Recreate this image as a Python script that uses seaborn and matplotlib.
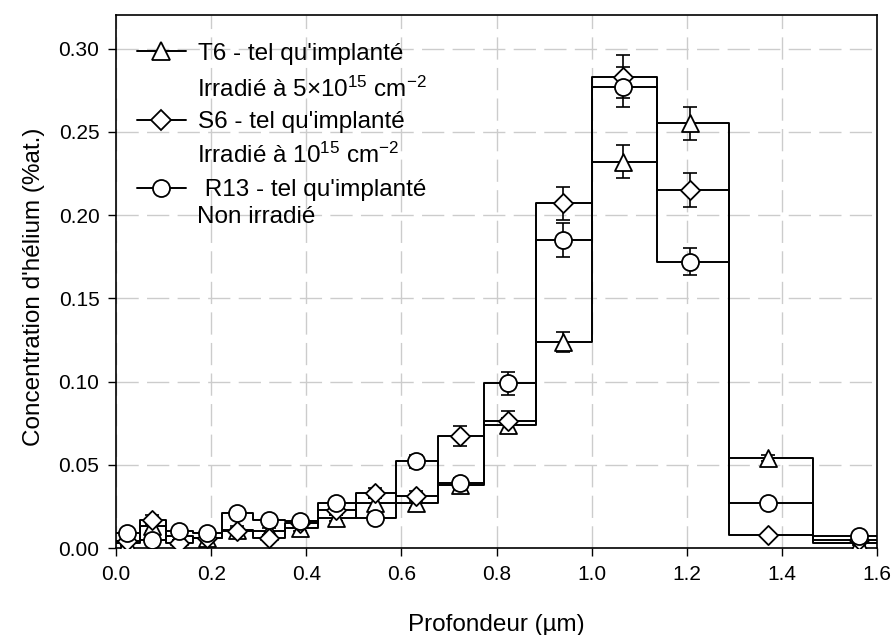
import numpy as np
import pandas as pd
import matplotlib
matplotlib.use("Agg")
import matplotlib.pyplot as plt
from matplotlib.lines import Line2D
import seaborn as sns

# ===================== He depth profiles (NRA) =====================
bin_edges = [0.0, 0.05, 0.105, 0.162, 0.222, 0.288, 0.355, 0.425, 0.504, 0.588,
             0.677, 0.773, 0.884, 1.0, 1.137, 1.289, 1.466, 1.66]
depth = [0.0225, 0.075, 0.133, 0.192, 0.254, 0.321, 0.387, 0.463, 0.545, 0.631,
         0.724, 0.825, 0.939, 1.065, 1.207, 1.370, 1.562]

t6 = [0.003, 0.013, 0.007, 0.006, 0.011, 0.010, 0.012, 0.018, 0.027, 0.027,
      0.038, 0.074, 0.124, 0.232, 0.255, 0.054, 0.003]
t6_err = [0.002, 0.003, 0.002, 0.002, 0.002, 0.002, 0.002, 0.002, 0.003, 0.003,
          0.003, 0.004, 0.006, 0.010, 0.010, 0.002, 0.001]

s6 = [0.004, 0.017, 0.003, 0.006, 0.010, 0.006, 0.015, 0.023, 0.033, 0.031,
      0.067, 0.076, 0.207, 0.283, 0.215, 0.008, 0.005]
s6_err = [0.002, 0.003, 0.002, 0.002, 0.002, 0.002, 0.002, 0.003, 0.003, 0.003,
          0.006, 0.006, 0.010, 0.013, 0.010, 0.001, 0.001]

r13 = [0.009, 0.005, 0.010, 0.009, 0.021, 0.017, 0.016, 0.027, 0.018, 0.052,
       0.039, 0.099, 0.185, 0.277, 0.172, 0.027, 0.007]
r13_err = [0.002, 0.002, 0.002, 0.002, 0.002, 0.002, 0.002, 0.002, 0.002, 0.004,
           0.003, 0.007, 0.010, 0.012, 0.008, 0.002, 0.001]

sample_labels = ["T6 - tel qu'implanté", "S6 - tel qu'implanté", " R13 - tel qu'implanté"]
dose_labels = ["Irradié à 5×10$^{15}$ cm$^{-2}$", "Irradié à 10$^{15}$ cm$^{-2}$", "Non irradié"]

series = [
    ("T6", t6, t6_err, "^", 150),
    ("S6", s6, s6_err, "D", 95),
    ("R13", r13, r13_err, "o", 150),
]

sns.set_style("white")
plt.rcParams['font.family'] = ['Liberation Sans', 'DejaVu Sans']
plt.rcParams['mathtext.default'] = 'regular'
plt.rcParams['font.size'] = 15
plt.rcParams['text.color'] = 'black'
plt.rcParams['axes.labelcolor'] = 'black'

fig = plt.figure(figsize=(8.93, 6.35), dpi=100)
ax = fig.add_axes([0.130, 0.137, 0.852, 0.839])
ax.set_axisbelow(True)

handles = []
for name, vals, errs, mk, sz in series:
    df = pd.DataFrame({"depth": depth, "conc": vals, "err": errs})
    sns.histplot(data=df, x="depth", weights="conc", bins=bin_edges,
                 element="step", fill=False, color="black", linewidth=1.4,
                 ax=ax, zorder=2)
    ax.errorbar(df["depth"], df["conc"], yerr=df["err"], fmt="none",
                ecolor="black", elinewidth=1.2, capsize=4.8, capthick=1.2, zorder=3)
    sns.scatterplot(data=df, x="depth", y="conc", marker=mk, s=sz,
                    color="white", edgecolor="black", linewidth=1.3,
                    ax=ax, zorder=4)
    handles.append(Line2D([], [], color="black", lw=1.4, marker=mk,
                          markersize=np.sqrt(sz), markerfacecolor="white",
                          markeredgecolor="black", markeredgewidth=1.3))

ax.set_xlim(0, 1.6)
ax.set_ylim(0, 0.32)
ax.set_xticks(np.arange(0, 1.61, 0.2))
ax.set_yticks(np.arange(0, 0.301, 0.05))
ax.xaxis.set_major_formatter(matplotlib.ticker.FormatStrFormatter("%.1f"))
ax.yaxis.set_major_formatter(matplotlib.ticker.FormatStrFormatter("%.2f"))
ax.tick_params(direction="out", length=6, width=1, labelsize=15, pad=6,
               bottom=True, left=True, top=False, right=False, colors="black")
ax.grid(True, color="#cccccc", linestyle=(0, (16, 6)), linewidth=1)
for sp in ax.spines.values():
    sp.set_color("black")
    sp.set_linewidth(1.2)

ax.set_xlabel("Profondeur (µm)", fontsize=17.5, labelpad=22, color="black")
ax.set_ylabel("Concentration d'hélium (%at.)", fontsize=17.5, color="black")
ax.yaxis.set_label_coords(-0.093, 0.49)

# legend: sample name next to the symbol, dose on the line below
ax.legend(handles, sample_labels, loc="upper left", bbox_to_anchor=(0.0276, 0.948),
          frameon=False, fontsize=17.5, handlelength=2.0, handletextpad=0.5,
          labelspacing=1.9, borderpad=0, borderaxespad=0, labelcolor="black")
for lab, yb in zip(dose_labels, [0.8475, 0.7225, 0.6092]):
    ax.text(0.1064, yb, lab, transform=ax.transAxes, fontsize=17.5,
            ha="left", va="baseline", color="black")

plt.savefig("out.png", dpi=100)
